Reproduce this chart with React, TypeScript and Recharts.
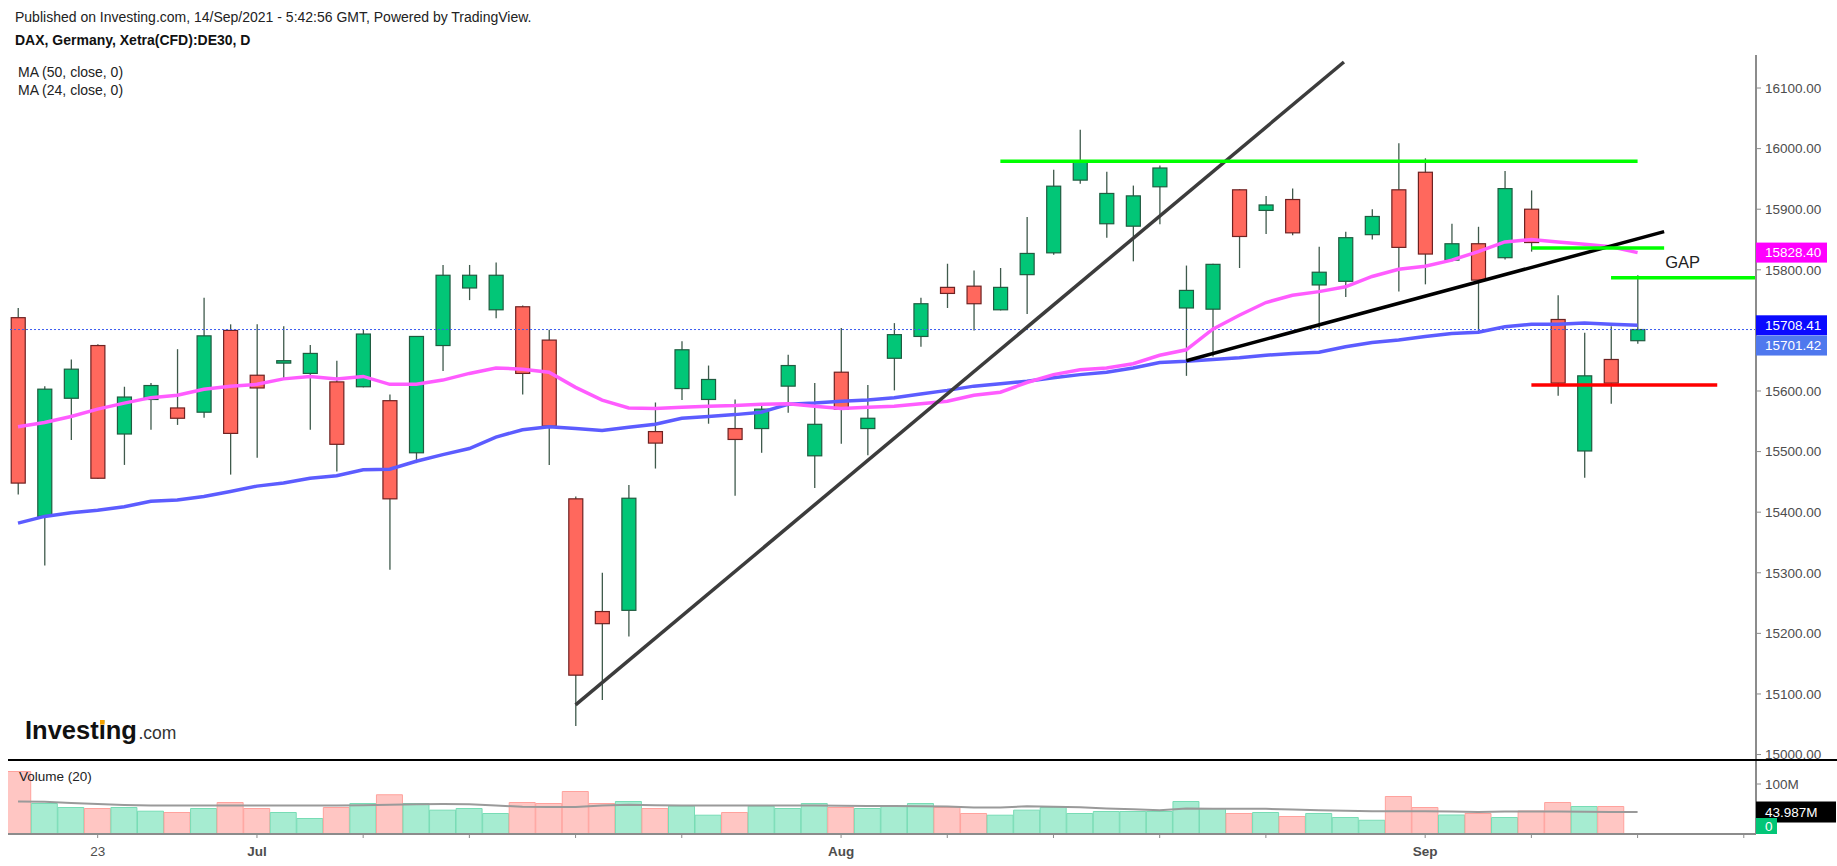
import React from 'react';
import { ComposedChart, Bar, Line, XAxis, YAxis, ReferenceLine, ReferenceDot, Cell } from 'recharts';

const dates = ['18 Jun','21 Jun','22 Jun','23 Jun','24 Jun','25 Jun','28 Jun','29 Jun','30 Jun','01 Jul','02 Jul','05 Jul','06 Jul','07 Jul','08 Jul','09 Jul','12 Jul','13 Jul','14 Jul','15 Jul','16 Jul','19 Jul','20 Jul','21 Jul','22 Jul','23 Jul','26 Jul','27 Jul','28 Jul','29 Jul','30 Jul','02 Aug','03 Aug','04 Aug','05 Aug','06 Aug','09 Aug','10 Aug','11 Aug','12 Aug','13 Aug','16 Aug','17 Aug','18 Aug','19 Aug','20 Aug','23 Aug','24 Aug','25 Aug','26 Aug','27 Aug','30 Aug','31 Aug','01 Sep','02 Sep','03 Sep','06 Sep','07 Sep','08 Sep','09 Sep','10 Sep','13 Sep'];

const opens = [15721,15393,15588,15675,15529,15586,15572,15565,15700,15626,15646,15629,15615,15607,15584,15498,15675,15770,15734,15739,15684,15422,15236,15238,15533,15604,15586,15538,15538,15608,15493,15631,15538,15654,15690,15771,15773,15734,15792,15828,15948,15876,15872,15937,15737,15735,15932,15898,15916,15775,15781,15858,15932,15961,15816,15843,15820,15900,15718,15501,15652,15683];
const highs = [15737,15608,15652,15677,15607,15613,15669,15754,15710,15710,15707,15676,15650,15701,15594,15690,15808,15808,15812,15741,15701,15426,15300,15445,15581,15682,15642,15586,15578,15660,15613,15704,15610,15712,15754,15810,15799,15803,15887,15965,16031,15962,15939,15972,15807,15810,15933,15922,15934,15838,15863,15900,16009,15984,15876,15871,15963,15931,15758,15696,15707,15791];
const lows = [15429,15312,15519,15455,15478,15536,15544,15556,15462,15490,15619,15536,15467,15606,15305,15481,15633,15750,15720,15594,15478,15047,15090,15195,15472,15585,15546,15427,15498,15564,15440,15513,15494,15601,15673,15737,15700,15733,15727,15825,15942,15853,15814,15875,15625,15657,15803,15859,15857,15703,15755,15850,15764,15776,15814,15695,15817,15830,15592,15457,15579,15678];
const closes = [15448,15603,15636,15456,15590,15609,15555,15691,15530,15605,15650,15662,15512,15694,15422,15690,15791,15791,15791,15629,15542,15131,15216,15423,15514,15668,15619,15520,15570,15642,15545,15570,15555,15693,15744,15761,15744,15771,15827,15938,15978,15926,15922,15968,15766,15809,15855,15907,15861,15796,15853,15888,15837,15826,15843,15783,15934,15845,15613,15625,15613,15701.42];

const ma50 = [15382,15393,15399,15403,15409,15418,15420,15426,15434,15443,15448,15456,15460,15470,15471,15484,15495,15505,15524,15536,15541,15538,15535,15540,15545,15555,15558,15561,15565,15578,15580,15583,15585,15589,15595,15601,15608,15612,15616,15622,15627,15631,15638,15647,15649,15652,15655,15659,15662,15664,15673,15680,15684,15690,15695,15697,15706,15710,15710,15712,15710,15708.41];
const ma24 = [15541,15548,15558,15570,15580,15589,15593,15603,15608,15611,15620,15624,15620,15624,15611,15611,15618,15629,15638,15636,15631,15606,15585,15572,15571,15573,15575,15576,15578,15579,15575,15571,15573,15575,15579,15583,15593,15598,15614,15627,15635,15638,15645,15659,15668,15702,15725,15746,15758,15764,15772,15789,15801,15806,15816,15830,15846,15850,15846,15842,15838,15828.40];

const volumes = [125,61,53,51,53,45.6,43,51,63,51,43,31,53,61,78.5,61,47.7,51,41,63,61,85,61,65,51,55.7,37.6,43,55.7,51,61,53,51,55.7,61,53,41,37.6,47.7,53,41,45,45,45,65,51,41,43,35,41,33,27.5,75,53,38,41,33,46,63,55,55,0.8];
const volumeMa = [65,64.5,62,60,58,57,57,57,57,57,57,57,57,57.5,58.4,59.5,60,59.5,57,54.5,54,54,57,58.5,57.7,57,57,57,57,57,57,56.5,56,55.8,55.7,55,53,53,55.5,54.5,53.5,51,49.5,47.7,51,50.5,50.3,50.3,49,47.7,46.5,45.6,45.6,45.3,45,44,45,45,45,44.5,44.2,43.987];

// 15700.00 is covered by the price badges in the reference, so it is not labelled
const priceTicks = [15000,15100,15200,15300,15400,15500,15600,15800,15900,16000,16100];
const volumeTicks = [100];
const dateTickIndex = [3,9,13,17,21,25,31,35,39,43,47,53,57,61,65];
const dateTickText = ['23','Jul','','','','','Aug','','','','','Sep','','',''];
const monthLabels = ['Jul','Aug','Sep'];

const steepTrend = [{ x: 21, y: 15082 }, { x: 49.94, y: 16143 }];
const supportTrend = [{ x: 44, y: 15650 }, { x: 62, y: 15863 }];
const topResistance = [{ x: 37, y: 15979 }, { x: 61, y: 15979 }];
const shortResistance = [{ x: 57, y: 15836 }, { x: 62, y: 15836 }];
const gapLevel = [{ x: 60, y: 15787 }, { x: 65.46, y: 15787 }];
const redSupport = [{ x: 57, y: 15610 }, { x: 64, y: 15610 }];
const gapText = { x: 62.7, y: 15813, text: 'GAP' };

const lastClose = 15701.42;
const lastMa50 = 15708.41;
const lastMa24 = 15828.40;
const lastVolMa = 43.987;
const lastVolume = 0;

const X_DOMAIN: [number, number] = [-0.377, 65.46];
const FONT = "'Liberation Sans', Arial, sans-serif";

const rows = dates.map((d, i) => ({
  i,
  date: d,
  open: opens[i],
  high: highs[i],
  low: lows[i],
  close: closes[i],
  range: [lows[i], highs[i]],
  ma50: ma50[i],
  ma24: ma24[i],
  vol: volumes[i],
  volMa: volumeMa[i],
  up: closes[i] >= opens[i],
}));

const UP_FILL = '#02c677';
const UP_BORDER = '#1f5c40';
const DN_FILL = '#ff685d';
const DN_BORDER = '#6e2222';
const WICK = '#3f5a4c';

function Candle(props: any) {
  const { x, width, payload } = props;
  let { y, height } = props;
  if (x == null || payload == null) return null;
  if (height < 0) { y = y + height; height = -height; }
  const { open, close, high, low } = payload;
  const up = close >= open;
  const k = height / Math.max(high - low, 0.0001);
  const py = (v: number) => y + (high - v) * k;
  const cx = x + width / 2;
  const top = py(Math.max(open, close));
  const bot = py(Math.min(open, close));
  const bh = Math.max(bot - top, 2);
  return (
    <g>
      <line x1={cx} x2={cx} y1={y} y2={y + height} stroke={WICK} strokeWidth={1.3} />
      <rect x={x + 0.5} y={top} width={width - 1} height={bh} fill={up ? UP_FILL : DN_FILL} stroke={up ? UP_BORDER : DN_BORDER} strokeWidth={1.2} />
    </g>
  );
}

const badge = (text: string, bg: string, dy = 0, w = 71, h = 20) => (p: any) => (
  <g>
    <rect x={p.cx} y={p.cy + dy - h / 2} width={w} height={h} fill={bg} />
    <text x={p.cx + 9} y={p.cy + dy} dominantBaseline="central" fill="#ffffff" fontSize={13.5} fontFamily={FONT}>{text}</text>
  </g>
);

const seg = (pts: { x: number; y: number }[], color: string, w: number) => (
  <ReferenceLine segment={pts as any} stroke={color} strokeWidth={w} ifOverflow="visible" />
);

function DateTick(props: any) {
  const { x, y, index } = props;
  const txt = dateTickText[index] ?? '';
  if (!txt) return null;
  const bold = monthLabels.includes(txt);
  return (
    <text x={x} y={y} dy="0.71em" textAnchor="middle" fill="#4d4d4d" fontSize={13.5} fontWeight={bold ? 'bold' : 'normal'} fontFamily={FONT}>{txt}</text>
  );
}

export default function App() {
  return (
    <div style={{ position: 'relative', width: 1837, height: 866, background: '#fff', overflow: 'hidden', fontFamily: FONT, color: '#222' }}>
      <style>{'body{margin:0}'}</style>
      <div style={{ position: 'absolute', left: 15, top: 10, fontSize: 14, lineHeight: '15px', whiteSpace: 'nowrap', color: '#222' }}>Published on Investing.com, 14/Sep/2021 - 5:42:56 GMT, Powered by TradingView.</div>
      <div style={{ position: 'absolute', left: 15, top: 33, fontSize: 14, lineHeight: '15px', fontWeight: 'bold', whiteSpace: 'nowrap', color: '#111' }}>DAX, Germany, Xetra(CFD):DE30, D</div>
      <div style={{ position: 'absolute', left: 18, top: 65, fontSize: 14, lineHeight: '15px', whiteSpace: 'nowrap', color: '#222' }}>MA (50, close, 0)</div>
      <div style={{ position: 'absolute', left: 18, top: 83, fontSize: 14, lineHeight: '15px', whiteSpace: 'nowrap', color: '#222' }}>MA (24, close, 0)</div>

      <div style={{ position: 'absolute', left: 0, top: 0 }}>
        <ComposedChart width={1837} height={770} data={rows} margin={{ top: 55, right: 0, bottom: 10, left: 8 }}>
          <XAxis dataKey="i" type="number" domain={X_DOMAIN} allowDataOverflow hide />
          <YAxis orientation="right" width={81} domain={[14991, 16154.5]} allowDataOverflow ticks={priceTicks} interval={0}
            axisLine={{ stroke: '#8c8c8c', strokeWidth: 2 }} tickLine={{ stroke: '#8c8c8c' }} tickSize={5} tickMargin={4}
            tick={{ fill: '#4d4d4d', fontSize: 13.5, fontFamily: FONT }} tickFormatter={(v: number) => v.toFixed(2)} />
          <ReferenceLine y={lastClose} stroke="#3a5cf0" strokeDasharray="2 2" strokeWidth={1} />
          <Line dataKey="ma50" stroke="#5c5cff" strokeWidth={3.5} dot={false} isAnimationActive={false} />
          <Line dataKey="ma24" stroke="#ff5cff" strokeWidth={3.5} dot={false} isAnimationActive={false} />
          <Bar dataKey="range" barSize={15} shape={<Candle />} isAnimationActive={false} />
          {seg(steepTrend, '#3c3c3c', 3.5)}
          {seg(supportTrend, '#000000', 3.5)}
          {seg(topResistance, '#00ff00', 3.5)}
          {seg(shortResistance, '#00ff00', 3.5)}
          {seg(gapLevel, '#00ff00', 3.5)}
          {seg(redSupport, '#ff0000', 3.5)}
          <ReferenceDot x={gapText.x} y={gapText.y} r={0} ifOverflow="visible"
            shape={(p: any) => <text x={p.cx} y={p.cy} textAnchor="middle" dominantBaseline="central" fontSize={16.5} fill="#222" fontFamily={FONT}>{gapText.text}</text>} />
          <ReferenceDot x={X_DOMAIN[1]} y={lastMa24} r={0} ifOverflow="visible" shape={badge(lastMa24.toFixed(2), '#ff00ff')} />
          <ReferenceDot x={X_DOMAIN[1]} y={lastMa50} r={0} ifOverflow="visible" shape={badge(lastMa50.toFixed(2), '#0a0aff')} />
          <ReferenceDot x={X_DOMAIN[1]} y={lastClose} r={0} ifOverflow="visible" shape={badge(lastClose.toFixed(2), '#4f78ee', 16)} />
        </ComposedChart>
      </div>

      <div style={{ position: 'absolute', left: 0, top: 750 }}>
        <ComposedChart width={1837} height={116} data={rows} margin={{ top: 10, right: 0, bottom: 2, left: 8 }}>
          <XAxis dataKey="i" type="number" domain={X_DOMAIN} allowDataOverflow ticks={dateTickIndex} interval={0} height={30}
            axisLine={{ stroke: '#8c8c8c', strokeWidth: 2 }} tickLine={{ stroke: '#8c8c8c' }} tickSize={4} tickMargin={8}
            tick={<DateTick />} />
          <YAxis orientation="right" width={81} domain={[0, 148]} allowDataOverflow ticks={volumeTicks} interval={0}
            axisLine={{ stroke: '#8c8c8c', strokeWidth: 2 }} tickLine={{ stroke: '#8c8c8c' }} tickSize={5} tickMargin={4}
            tick={{ fill: '#4d4d4d', fontSize: 13.5, fontFamily: FONT }} tickFormatter={(v: number) => `${v}M`} />
          <Bar dataKey="vol" barSize={26} isAnimationActive={false}>
            {rows.map((r) => (
              <Cell key={r.i} fill={r.up ? '#a6ecd1' : '#ffc6c3'} stroke={r.up ? '#78dcb5' : '#ffa29d'} strokeWidth={1} />
            ))}
          </Bar>
          <Line dataKey="volMa" stroke="#9a9a9a" strokeWidth={2} dot={false} isAnimationActive={false} />
          <ReferenceDot x={X_DOMAIN[1]} y={lastVolMa} r={0} ifOverflow="visible" shape={badge(`${lastVolMa}M`, '#000000', 0, 80, 21)} />
          <ReferenceDot x={X_DOMAIN[1]} y={lastVolume} r={0} ifOverflow="visible" shape={badge(String(lastVolume), '#02c677', -8, 21, 16)} />
        </ComposedChart>
      </div>

      <div style={{ position: 'absolute', left: 8, top: 759, width: 1829, height: 2, background: '#000' }} />
      <div style={{ position: 'absolute', left: 19, top: 769, fontSize: 13.5, lineHeight: '15px', whiteSpace: 'nowrap', color: '#222' }}>Volume (20)</div>

      <svg style={{ position: 'absolute', left: 0, top: 700 }} width={200} height={50}>
        <text x={25} y={39} fontSize={25.5} fontWeight="bold" fill="#111" fontFamily={FONT}>Investing</text>
        <rect x={100} y={20} width={4.6} height={4.6} fill="#f5a300" />
        <text x={138.5} y={39} fontSize={17.5} fill="#333" fontFamily={FONT}>.com</text>
      </svg>
    </div>
  );
}
